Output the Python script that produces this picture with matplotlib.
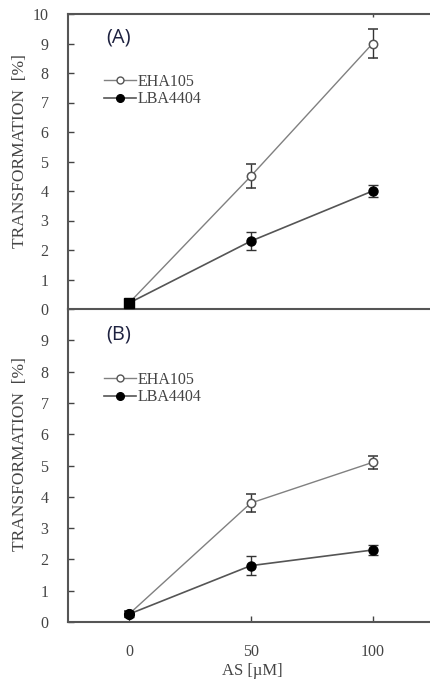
import matplotlib.pyplot as plt
from matplotlib.lines import Line2D

# AS concentration (uM)
dosis = [0, 50, 100]

# panel A
eha_a = [0.2, 4.5, 9.0]
eha_a_err = [0.1, 0.4, 0.5]
lba_a = [0.2, 2.3, 4.0]
lba_a_err = [0.1, 0.3, 0.2]

# panel B
eha_b = [0.25, 3.8, 5.1]
eha_b_err = [0.1, 0.3, 0.2]
lba_b = [0.25, 1.8, 2.3]
lba_b_err = [0.1, 0.3, 0.15]

serif = 'Liberation Serif'
gris_txt = '#444444'

fig = plt.figure(figsize=(4.31, 6.86), dpi=100)
W, H = 431, 686
left = 68 / W
width = (436 - 68) / W
ax1 = fig.add_axes([left, 1 - 309 / H, width, (309 - 14) / H])
ax2 = fig.add_axes([left, 1 - 622 / H, width, (622 - 309) / H])
ax2.patch.set_visible(False)


def panel(ax, eha, eha_err, lba, lba_err, letra, primer_marker):
    ax.errorbar(dosis, eha, yerr=eha_err, color='#808080', lw=1.0,
                marker='o', ms=6, mfc='white', mec='#555555', mew=1.1,
                ecolor='#333333', elinewidth=1.0, capsize=3.5, zorder=3)
    ax.errorbar(dosis, lba, yerr=lba_err, color='#555555', lw=1.2,
                marker='o', ms=6.5, mfc='black', mec='black',
                ecolor='#333333', elinewidth=1.0, capsize=3.5, zorder=4)
    # punto en 0 se superpone
    ax.plot(dosis[:1], lba[:1], marker=primer_marker, ms=7, color='black', ls='none', zorder=5)
    ax.set_xlim(-25, 126)
    ax.set_ylim(0, 10)
    ax.set_yticks(range(0, 11) if letra == '(A)' else range(0, 10))
    ax.tick_params(axis='both', direction='in', length=4, width=1, color='#444444',
                   labelsize=11.5, labelcolor=gris_txt)
    ax.tick_params(axis='y', pad=14)
    for lab in ax.get_yticklabels() + ax.get_xticklabels():
        lab.set_family(serif)
    for s in ax.spines.values():
        s.set_color('#555555')
        s.set_linewidth(1.5)
    ax.spines['right'].set_visible(False)
    ax.set_ylabel('TRANSFORMATION  [%]', family=serif, fontsize=12.5, color=gris_txt)
    ax.yaxis.set_label_coords(-0.108, 0.535)
    ax.text(0.105, 0.92, letra, transform=ax.transAxes, fontsize=14.5, family='Open Sans',
            color='#1e2240', va='center')
    handles = [
        Line2D([], [], color='#808080', lw=1.0, marker='o', ms=5, mfc='white', mec='#555555'),
        Line2D([], [], color='#555555', lw=1.2, marker='o', ms=5.5, mfc='black', mec='black'),
    ]
    ax.legend(handles, ['EHA105', 'LBA4404'], loc='upper left', bbox_to_anchor=(0.075, 0.825),
              frameon=False, prop={'family': serif, 'size': 11.5}, handlelength=2.0,
              handletextpad=0.1, labelspacing=0.1, labelcolor=gris_txt, borderpad=0)


panel(ax1, eha_a, eha_a_err, lba_a, lba_a_err, '(A)', 's')
panel(ax2, eha_b, eha_b_err, lba_b, lba_b_err, '(B)', 'o')

ax1.set_xticks([100])
ax1.tick_params(axis='x', labelbottom=False, bottom=False, top=True, length=2)
ax2.set_xticks(dosis)
ax2.tick_params(axis='x', pad=16)
ax2.spines['top'].set_visible(False)
ax2.set_xlabel('AS [µM]', family=serif, fontsize=12, color=gris_txt, labelpad=2)

fig.savefig('out.png', dpi=100)
